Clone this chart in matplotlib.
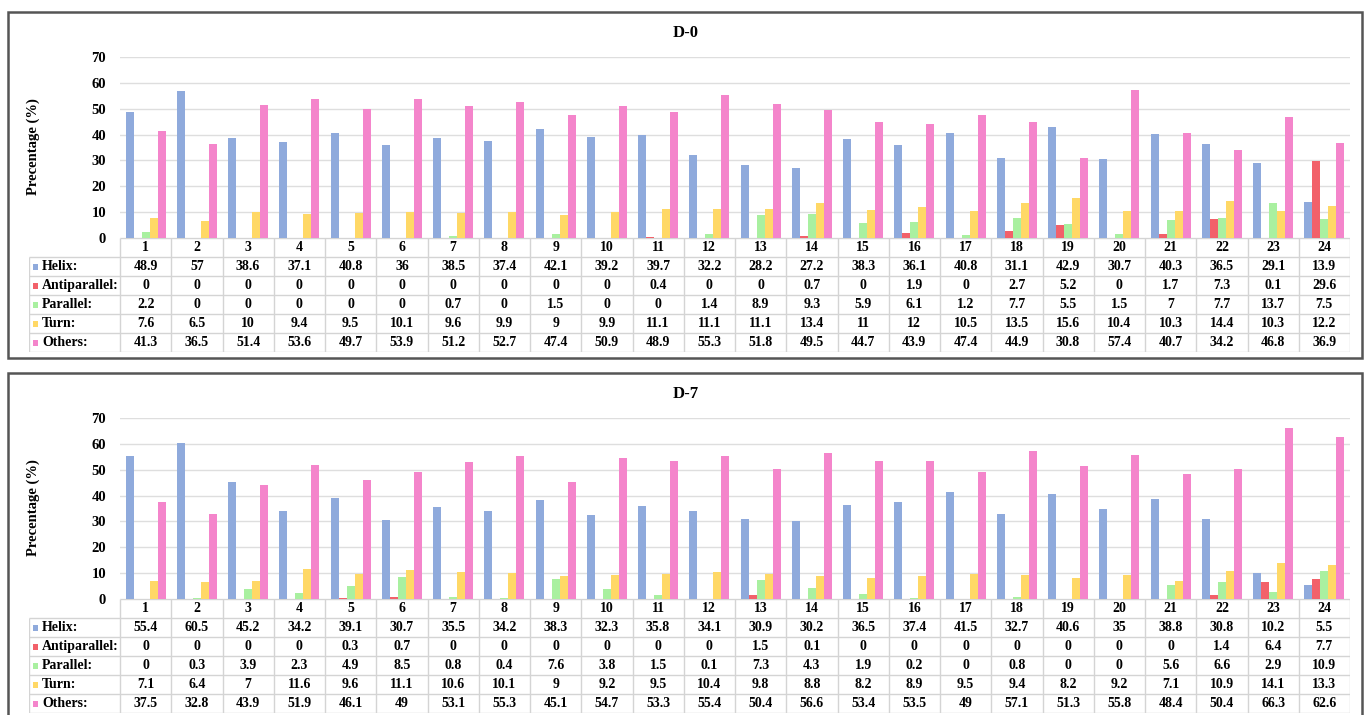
import matplotlib
matplotlib.use("Agg")
import matplotlib.pyplot as plt
from matplotlib.patches import Rectangle
import numpy as np

# ---------------------------------------------------------------- data
categories = [str(i) for i in range(1, 25)]
series_names = ["Helix", "Antiparallel", "Parallel", "Turn", "Others"]
series_colors = ["#8faadc", "#f2616a", "#a9f0a0", "#ffd866", "#f485cb"]
y_ticks = [0, 10, 20, 30, 40, 50, 60, 70]

d0_helix = [48.9, 57, 38.6, 37.1, 40.8, 36, 38.5, 37.4, 42.1, 39.2, 39.7, 32.2,
            28.2, 27.2, 38.3, 36.1, 40.8, 31.1, 42.9, 30.7, 40.3, 36.5, 29.1, 13.9]
d0_antiparallel = [0, 0, 0, 0, 0, 0, 0, 0, 0, 0, 0.4, 0,
                   0, 0.7, 0, 1.9, 0, 2.7, 5.2, 0, 1.7, 7.3, 0.1, 29.6]
d0_parallel = [2.2, 0, 0, 0, 0, 0, 0.7, 0, 1.5, 0, 0, 1.4,
               8.9, 9.3, 5.9, 6.1, 1.2, 7.7, 5.5, 1.5, 7, 7.7, 13.7, 7.5]
d0_turn = [7.6, 6.5, 10, 9.4, 9.5, 10.1, 9.6, 9.9, 9, 9.9, 11.1, 11.1,
           11.1, 13.4, 11, 12, 10.5, 13.5, 15.6, 10.4, 10.3, 14.4, 10.3, 12.2]
d0_others = [41.3, 36.5, 51.4, 53.6, 49.7, 53.9, 51.2, 52.7, 47.4, 50.9, 48.9, 55.3,
             51.8, 49.5, 44.7, 43.9, 47.4, 44.9, 30.8, 57.4, 40.7, 34.2, 46.8, 36.9]

d7_helix = [55.4, 60.5, 45.2, 34.2, 39.1, 30.7, 35.5, 34.2, 38.3, 32.3, 35.8, 34.1,
            30.9, 30.2, 36.5, 37.4, 41.5, 32.7, 40.6, 35, 38.8, 30.8, 10.2, 5.5]
d7_antiparallel = [0, 0, 0, 0, 0.3, 0.7, 0, 0, 0, 0, 0, 0,
                   1.5, 0.1, 0, 0, 0, 0, 0, 0, 0, 1.4, 6.4, 7.7]
d7_parallel = [0, 0.3, 3.9, 2.3, 4.9, 8.5, 0.8, 0.4, 7.6, 3.8, 1.5, 0.1,
               7.3, 4.3, 1.9, 0.2, 0, 0.8, 0, 0, 5.6, 6.6, 2.9, 10.9]
d7_turn = [7.1, 6.4, 7, 11.6, 9.6, 11.1, 10.6, 10.1, 9, 9.2, 9.5, 10.4,
           9.8, 8.8, 8.2, 8.9, 9.5, 9.4, 8.2, 9.2, 7.1, 10.9, 14.1, 13.3]
d7_others = [37.5, 32.8, 43.9, 51.9, 46.1, 49, 53.1, 55.3, 45.1, 54.7, 53.3, 55.4,
             50.4, 56.6, 53.4, 53.5, 49, 57.1, 51.3, 55.8, 48.4, 50.4, 66.3, 62.6]

# ---------------------------------------------------------------- layout
W, H = 1368, 715
SERIF = "Liberation Serif"
fig = plt.figure(figsize=(W / 100, H / 100), dpi=100)
fig.patch.set_facecolor("white")

PLOT_L, PLOT_R = 120, 1350
TABLE_L = 29
ROW_H = 19
n_cat = len(categories)
cat_w = (PLOT_R - PLOT_L) / n_cat
bar_w = 0.156
grid_col = "#dedede"
line_col = "#d4d4d4"


def px_axes(left, top, right, bottom):
    return fig.add_axes([left / W, 1 - bottom / H, (right - left) / W, (bottom - top) / H])


def draw_panel(title, series, dy, box_bottom):
    # frame around the panel
    fig.patches.append(Rectangle((8 / W, 1 - (box_bottom + dy) / H), 1354 / W,
                                 (box_bottom - 12) / H, transform=fig.transFigure,
                                 fill=False, ec="#555555", lw=1.8, zorder=0))
    fig.text(686 / W, 1 - (33 + dy) / H, title, ha="center", va="center",
             family=SERIF, weight="bold", fontsize=12)
    fig.text(33 / W, 1 - (147 + dy) / H, "Precentage (%)", rotation=90,
             ha="center", va="center", family=SERIF, weight="bold", fontsize=10.5)

    top, base = 57 + dy, 238 + dy
    ax = px_axes(PLOT_L, top, PLOT_R, base)
    x = np.arange(n_cat) + 0.5
    for k, (vals, col) in enumerate(zip(series, series_colors)):
        ax.bar(x + (k - 2) * bar_w, vals, width=bar_w, color=col, zorder=3)
    ax.set_xlim(0, n_cat)
    ax.set_ylim(0, 70)
    ax.set_yticks(y_ticks)
    ax.set_xticks([])
    ax.grid(axis="y", color=grid_col, lw=1, zorder=0)
    for s in ax.spines.values():
        s.set_visible(False)
    ax.tick_params(axis="y", length=0, pad=10)
    for lab in ax.get_yticklabels():
        lab.set_fontfamily(SERIF)
        lab.set_fontweight("bold")
        lab.set_fontsize(10.5)

    # data table below the bars
    n_rows = len(series) + 1
    tax = px_axes(TABLE_L, base, PLOT_R, base + ROW_H * n_rows)
    xmin = -(PLOT_L - TABLE_L) / cat_w
    tax.set_xlim(xmin, n_cat)
    tax.set_ylim(n_rows, 0)
    tax.axis("off")
    kw = dict(color=line_col, lw=1, solid_capstyle="butt")
    tax.plot([0, n_cat], [0, 0], **kw)
    for r in range(1, n_rows + 1):
        tax.plot([xmin, n_cat], [r, r], **kw)
    for c in range(n_cat + 1):
        tax.plot([c, c], [0, n_rows], **kw)
    tax.plot([xmin, xmin], [1, n_rows], **kw)

    tkw = dict(ha="center", va="center", family=SERIF, weight="bold", fontsize=10)
    for c, name in enumerate(categories):
        tax.text(c + 0.5, 0.52, name, **tkw)
    sq_w = 5 / cat_w
    for r, (name, vals, col) in enumerate(zip(series_names, series, series_colors), start=1):
        tax.add_patch(Rectangle((xmin + 4 / cat_w, r + 0.36), sq_w, 0.3,
                                color=col, lw=0))
        tax.text(xmin + 13 / cat_w, r + 0.52, name + ":", ha="left", va="center",
                 family=SERIF, weight="bold", fontsize=10)
        for c, v in enumerate(vals):
            tax.text(c + 0.5, r + 0.52, f"{v:g}", **tkw)


draw_panel("D-0", [d0_helix, d0_antiparallel, d0_parallel, d0_turn, d0_others], 0, 358)
draw_panel("D-7", [d7_helix, d7_antiparallel, d7_parallel, d7_turn, d7_others], 361, 380)

fig.savefig("out.png", dpi=100, facecolor="white")
